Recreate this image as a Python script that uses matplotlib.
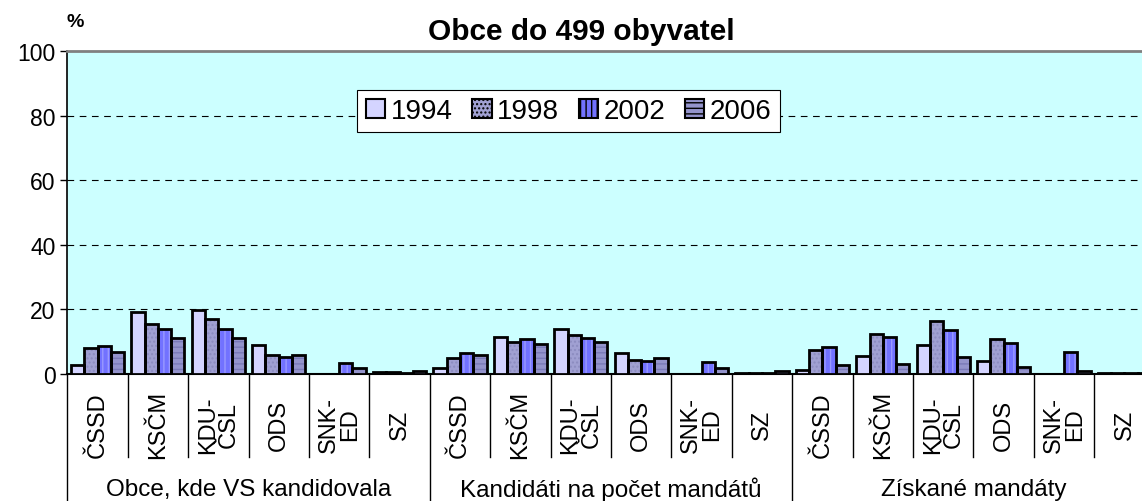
import matplotlib.pyplot as plt
import numpy as np
from matplotlib.patches import Patch

plt.rcParams['font.family'] = ['Liberation Sans', 'DejaVu Sans']
plt.rcParams['hatch.linewidth'] = 1.0

# data
parties = ["ČSSD", "KSČM", "KDU-\nČSL", "ODS", "SNK-\nED", "SZ"]
groups = ["Obce, kde VS kandidovala", "Kandidáti na počet mandátů", "Získané mandáty"]
years = ["1994", "1998", "2002", "2006"]

obce = {
    "1994": [2.9, 19.3, 19.7, 9.0, 0.0, 0.7],
    "1998": [8.0, 15.5, 16.9, 6.0, 0.0, 0.5],
    "2002": [8.6, 13.9, 13.8, 5.3, 3.3, 0.3],
    "2006": [6.9, 11.0, 11.3, 5.9, 1.8, 0.9],
}
kandidati = {
    "1994": [1.9, 11.4, 14.0, 6.6, 0.0, 0.3],
    "1998": [5.1, 9.9, 12.0, 4.2, 0.0, 0.3],
    "2002": [6.6, 10.8, 11.1, 4.1, 3.6, 0.3],
    "2006": [6.0, 9.3, 10.0, 5.1, 1.8, 0.8],
}
mandaty = {
    "1994": [1.1, 5.7, 8.9, 4.0, 0.0, 0.2],
    "1998": [7.5, 12.3, 16.4, 10.9, 0.0, 0.2],
    "2002": [8.3, 11.5, 13.6, 9.7, 6.9, 0.2],
    "2006": [2.9, 3.2, 5.2, 2.2, 1.0, 0.2],
}
tables = [obce, kandidati, mandaty]

facecolors = ["#d4d4ff", "#a0a0d2", "#7272ff", "#9494cc"]
hatchcolors = ["#c0c0f0", "#8c8cc0", "#9a9aff", "#7a7ab8"]
hatches = ["", "....", "|||", "---"]

fig = plt.figure(figsize=(11.42, 5.02), dpi=100)
ax = fig.add_axes([67.3 / 1142, 127 / 502, 1087.4 / 1142, 323 / 502])
ax.set_facecolor("#ccffff")

n_cat = len(parties) * len(groups)
x = np.arange(n_cat)
w = 0.22
for i, yr in enumerate(years):
    vals = np.concatenate([t[yr] for t in tables])
    pos = x + (i - 1.5) * w
    ax.bar(pos, vals, w, color=facecolors[i], hatch=hatches[i],
           edgecolor=hatchcolors[i], linewidth=0, zorder=3)
    ax.bar(pos, vals, w, fill=False, edgecolor="black", linewidth=2, zorder=4)

ax.set_xlim(-0.5, n_cat - 0.5)
ax.set_ylim(0, 100)
ax.set_yticks([0, 20, 40, 60, 80, 100])
ax.tick_params(axis="y", labelsize=16.5, length=5, direction="out", width=1)
ax.set_xticks([])
for yv in [20, 40, 60, 80]:
    ax.axhline(yv, color="black", lw=0.8, ls=(0, (6, 5)), zorder=1)

ax.spines["top"].set_color("#808080")
ax.spines["top"].set_linewidth(2)
ax.spines["right"].set_visible(False)
ax.spines["left"].set_linewidth(1.2)
ax.spines["bottom"].set_linewidth(1.5)

# category axis below the plot
tr = ax.get_xaxis_transform()
for k in range(n_cat + 1):
    xb = k - 0.5
    y_end = -0.393 if k % len(parties) == 0 else -0.257
    ax.plot([xb, xb], [0, y_end], transform=tr, color="black", lw=1,
            clip_on=False, zorder=5)
for k in range(n_cat):
    ax.text(k, -0.155, parties[k % len(parties)], transform=tr, rotation=90,
            ha="center", va="center", multialignment="center",
            fontsize=17, linespacing=0.95)
for g, name in enumerate(groups):
    ax.text(g * len(parties) + 2.5, -0.356, name, transform=tr,
            ha="center", va="center", fontsize=17.5)

fig.text(0.509, 0.936, "Obce do 499 obyvatel", ha="center", va="center",
         fontsize=21.5, fontweight="bold")
fig.text(0.0657, 0.956, "%", ha="center", va="center", fontsize=14,
         fontweight="bold")

handles = [Patch(facecolor=facecolors[i], hatch=hatches[i], edgecolor="black",
                 linewidth=1.5) for i in range(4)]
leg = ax.legend(handles, years, loc="center", bbox_to_anchor=(0.461, 0.814),
                ncol=4, fontsize=20, frameon=True, fancybox=False,
                edgecolor="black", framealpha=1, handlelength=0.7,
                handleheight=0.7, handletextpad=0.2, columnspacing=0.7,
                borderpad=0.3, borderaxespad=0)
leg.get_frame().set_linewidth(0.8)
leg.set_zorder(6)

fig.savefig("out.png", dpi=100)
